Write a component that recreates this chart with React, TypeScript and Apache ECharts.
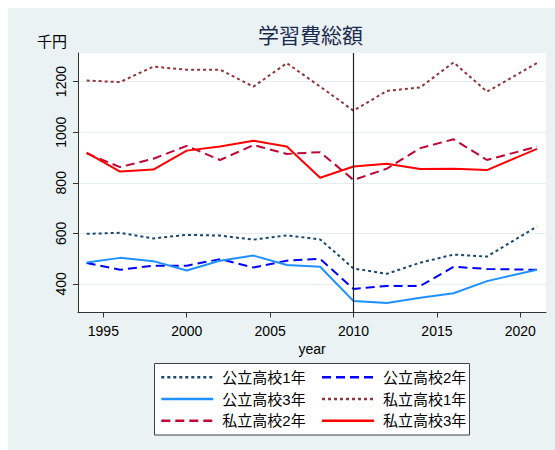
import React, { useEffect, useRef } from "react";
import * as echarts from "echarts";

const years = [1994, 1996, 1998, 2000, 2002, 2004, 2006, 2008, 2010, 2012, 2014, 2016, 2018, 2021];
const pub1 = [598, 602, 580, 594, 591, 575, 592, 576, 461, 440, 484, 516, 508, 627];
const pub2 = [483, 456, 472, 472, 498, 465, 492, 499, 380, 392, 392, 468, 459, 456];
const pub3 = [485, 503, 490, 453, 492, 512, 475, 468, 332, 325, 345, 363, 411, 456];
const priv1 = [1204, 1198, 1259, 1247, 1247, 1180, 1273, 1180, 1085, 1163, 1177, 1276, 1160, 1273];
const priv2 = [916, 862, 895, 946, 890, 949, 914, 921, 811, 856, 937, 972, 890, 943];
const priv3 = [919, 844, 852, 927, 943, 966, 943, 820, 864, 875, 854, 855, 850, 934];

const seriesNames = ["公立高校1年", "公立高校2年", "公立高校3年", "私立高校1年", "私立高校2年", "私立高校3年"];
const xTicks = [1995, 2000, 2005, 2010, 2015, 2020];
const yTicks = [400, 600, 800, 1000, 1200];
const refYear = 2010;

const LATIN = "'Liberation Sans', Arial, sans-serif";
const CJK = "'Liberation Sans', 'Noto Sans CJK JP', sans-serif";

export default function App() {
  const ref = useRef<HTMLDivElement>(null);
  useEffect(() => {
    if (!ref.current) return;
    const chart = echarts.init(ref.current, null, { renderer: "svg" });
    const mk = (data: number[]) => years.map((y, i) => [y, data[i]]);
    const styles = [
      { color: "#1a476f", type: [3, 3] },
      { color: "#0000ff", type: [9, 5] },
      { color: "#1e90ff", type: "solid" },
      { color: "#90353b", type: [3, 3] },
      { color: "#c10534", type: [9, 5] },
      { color: "#ff0000", type: "solid" },
    ];
    const datas = [pub1, pub2, pub3, priv1, priv2, priv3];
    const series: any[] = datas.map((d, i) => ({
      name: seriesNames[i],
      type: "line",
      data: mk(d),
      symbol: "none",
      showSymbol: false,
      itemStyle: { color: styles[i].color },
      lineStyle: { color: styles[i].color, width: 2, type: styles[i].type },
      z: 3,
    }));
    series[0].markLine = {
      silent: true,
      symbol: "none",
      label: { show: false },
      lineStyle: { color: "#222", width: 1.2, type: "solid" },
      data: [{ xAxis: refYear }],
    };
    const legendCommon = {
      orient: "vertical",
      top: 360.3,
      itemWidth: 52,
      itemHeight: 14,
      itemGap: 3.7,
      padding: 0,
      itemStyle: { color: "transparent", borderWidth: 0, opacity: 0 },
      lineStyle: { width: 2.6 },
      textStyle: { fontFamily: CJK, fontSize: 15, lineHeight: 18, color: "#000", padding: [0, 0, 0, 4] },
    };
    const plain = (v: number) => String(v);
    chart.setOption({
      animation: false,
      backgroundColor: "#eaf2f3",
      title: [
        {
          text: "学習費総額",
          left: 250,
          top: 17,
          padding: 0,
          textStyle: { fontFamily: CJK, fontSize: 21, fontWeight: "normal", color: "#1c2a4e" },
        },
        {
          text: "千円",
          left: 29,
          top: 26,
          padding: 0,
          textStyle: { fontFamily: CJK, fontSize: 15, fontWeight: "normal", color: "#000" },
        },
      ],
      grid: {
        left: 70,
        top: 45,
        right: 9,
        bottom: 137.5,
        show: true,
        backgroundColor: "#ffffff",
        borderWidth: 0,
      },
      xAxis: {
        type: "value",
        min: 1993.48,
        max: 2021.54,
        name: "year",
        nameLocation: "middle",
        nameGap: 28,
        nameTextStyle: { fontFamily: LATIN, fontSize: 14, color: "#000" },
        axisLine: { show: true, onZero: false, lineStyle: { color: "#333", width: 1 } },
        axisTick: { show: true, length: 5, customValues: xTicks, lineStyle: { color: "#333" } },
        axisLabel: { customValues: xTicks, formatter: plain, margin: 11, fontFamily: LATIN, fontSize: 14, color: "#000" },
        splitLine: { show: false },
      },
      yAxis: {
        type: "value",
        min: 287,
        max: 1313,
        axisLine: { show: true, onZero: false, lineStyle: { color: "#333", width: 1 } },
        axisTick: { show: true, length: 5, customValues: yTicks, lineStyle: { color: "#333" } },
        axisLabel: { customValues: yTicks, formatter: plain, rotate: 90, margin: 10, fontFamily: LATIN, fontSize: 14, color: "#000" },
        splitLine: { show: true, lineStyle: { color: "#e4edef", width: 1 } },
      },
      legend: [
        { ...legendCommon, left: 152, data: [seriesNames[0], seriesNames[2], seriesNames[4]] },
        { ...legendCommon, left: 312.7, data: [seriesNames[1], seriesNames[3], seriesNames[5]] },
      ],
      graphic: [
        {
          type: "rect",
          z: 0,
          shape: { x: 146.5, y: 355.5, width: 315, height: 71.5 },
          style: { fill: "#ffffff", stroke: "#404040", lineWidth: 1 },
        },
      ],
      series,
    });
    return () => chart.dispose();
  }, []);
  return (
    <div
      ref={ref}
      style={{ position: "fixed", left: 8, top: 8, width: 547, height: 442 }}
    />
  );
}
